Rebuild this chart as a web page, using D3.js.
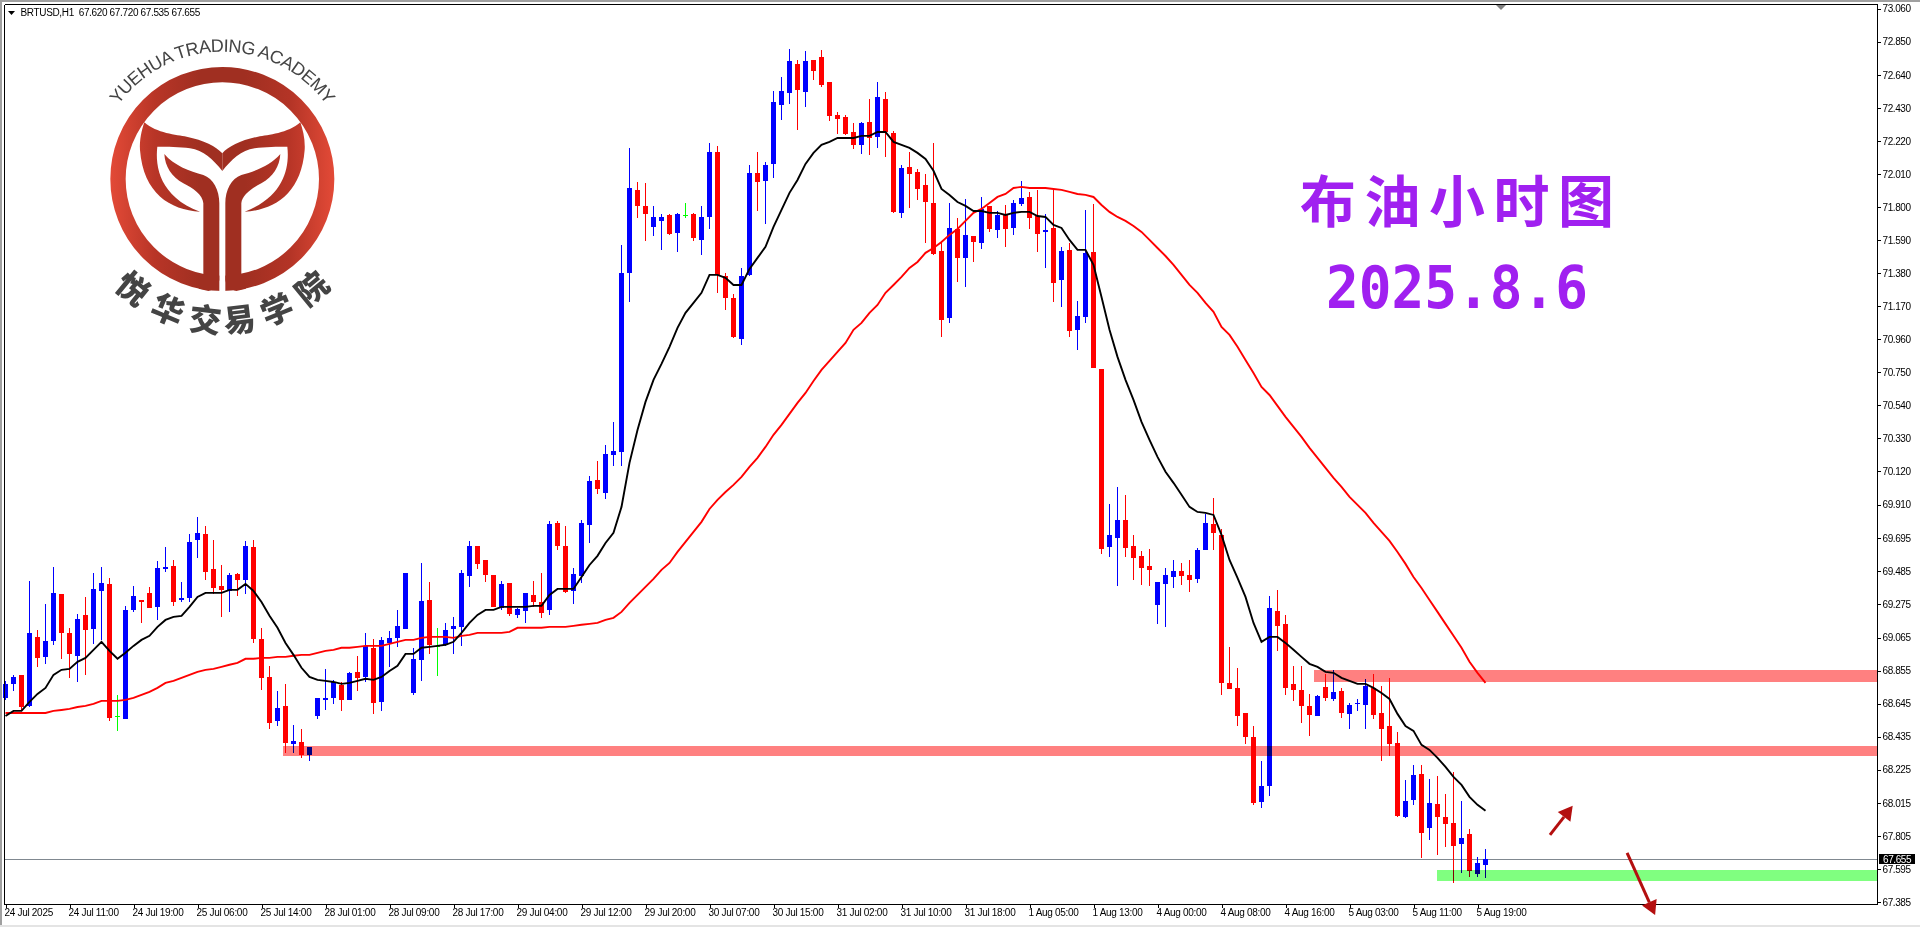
<!DOCTYPE html>
<html><head><meta charset="utf-8">
<script src="https://cdn.jsdelivr.net/npm/d3@7/dist/d3.min.js"></script>
<style>html,body{margin:0;padding:0;background:#fff;overflow:hidden}svg{display:block}</style>
</head><body><svg id="c" width="1920" height="927"></svg>
<script>
const opens=[68.682,68.771,68.828,68.631,69.069,68.942,69.044,69.343,69.095,68.949,69.209,69.120,69.361,69.406,68.567,68.548,69.241,69.304,69.349,69.260,69.501,69.520,69.304,69.317,69.685,69.723,69.501,69.393,69.361,69.469,69.431,69.641,69.057,68.815,68.535,68.631,68.389,68.402,68.320,68.567,68.669,68.682,68.764,68.669,68.847,68.815,69.000,68.656,69.031,69.063,69.120,68.714,68.923,69.304,69.012,69.019,69.120,69.133,69.457,69.647,69.558,69.463,69.253,69.412,69.209,69.234,69.336,69.291,69.241,69.793,69.647,69.361,69.457,69.781,70.067,69.984,70.226,70.245,71.381,71.909,71.807,71.674,71.712,71.750,71.636,71.750,71.756,71.591,71.737,72.150,71.362,71.223,70.963,71.369,72.017,71.966,72.074,72.449,72.525,72.709,72.531,72.735,72.754,72.595,72.386,72.373,72.277,72.195,72.341,72.246,72.487,72.271,71.763,72.055,72.023,71.941,71.826,71.521,71.096,71.661,71.477,71.617,71.572,71.807,71.655,71.750,71.667,71.820,71.864,71.743,71.642,71.667,71.337,71.528,71.020,71.102,71.515,70.772,69.641,69.698,69.812,69.647,69.584,69.520,69.272,69.406,69.450,69.488,69.463,69.438,69.622,69.787,69.717,68.777,68.745,68.586,68.433,68.021,68.123,69.234,69.152,68.771,68.732,68.631,68.567,68.751,68.675,68.726,68.580,68.644,68.637,68.745,68.586,68.503,68.396,67.926,68.034,68.199,67.856,68.009,67.926,67.888,67.754,67.818,67.564,67.620];
const closes=[68.771,68.815,68.624,69.095,68.936,69.044,69.349,69.095,68.961,69.184,69.114,69.374,69.412,68.555,68.567,69.241,69.330,69.291,69.253,69.507,69.514,69.291,69.317,69.673,69.730,69.482,69.380,69.368,69.463,69.431,69.647,69.057,68.809,68.523,68.618,68.396,68.408,68.320,68.371,68.682,68.682,68.783,68.669,68.841,68.809,69.012,68.650,69.050,69.063,69.139,69.476,68.930,69.298,69.019,69.012,69.114,69.139,69.476,69.647,69.533,69.463,69.260,69.406,69.215,69.247,69.349,69.291,69.222,69.787,69.647,69.355,69.469,69.793,70.060,70.009,70.232,70.251,71.381,71.921,71.807,71.756,71.737,71.737,71.629,71.756,71.750,71.604,71.737,72.150,71.369,71.223,70.975,71.362,72.017,71.959,72.068,72.468,72.538,72.729,72.544,72.729,72.665,72.576,72.379,72.360,72.265,72.195,72.335,72.239,72.500,72.277,71.769,72.049,72.011,71.915,71.832,71.502,71.083,71.667,71.477,71.623,71.578,71.788,71.661,71.750,71.661,71.826,71.858,71.731,71.629,71.655,71.318,71.521,71.013,71.108,71.509,70.778,69.628,69.717,69.812,69.635,69.571,69.507,69.495,69.418,69.463,69.488,69.457,69.431,69.622,69.793,69.730,68.777,68.739,68.567,68.433,68.015,68.123,69.253,69.139,68.745,68.732,68.631,68.574,68.694,68.682,68.720,68.586,68.637,68.650,68.758,68.574,68.485,68.389,67.932,68.027,68.192,67.824,68.015,67.926,67.881,67.741,67.792,67.583,67.633,67.655];
const highs=[68.790,68.828,68.828,69.425,69.114,69.279,69.514,69.343,69.127,69.215,69.323,69.476,69.514,69.444,68.700,69.266,69.393,69.304,69.387,69.552,69.641,69.558,69.418,69.723,69.832,69.774,69.685,69.526,69.476,69.476,69.679,69.685,69.127,68.885,68.726,68.771,68.510,68.485,68.371,68.682,68.866,68.796,68.783,68.847,68.949,69.095,69.057,69.069,69.107,69.241,69.476,69.000,69.539,69.418,69.127,69.158,69.196,69.495,69.679,69.647,69.558,69.463,69.425,69.412,69.253,69.349,69.425,69.476,69.806,69.806,69.774,69.507,69.812,70.092,70.187,70.289,70.435,71.559,72.176,71.959,71.953,71.807,71.756,71.756,71.763,71.826,71.763,71.807,72.207,72.188,71.381,71.248,71.413,72.068,72.150,72.087,72.538,72.627,72.805,72.735,72.792,72.735,72.798,72.595,72.405,72.386,72.335,72.341,72.487,72.595,72.531,72.284,72.068,72.150,72.042,72.011,72.207,71.572,71.826,71.731,71.851,71.617,71.864,71.807,71.775,71.813,71.845,71.966,71.896,71.909,71.756,71.909,71.547,71.572,71.204,71.782,71.820,70.772,69.915,70.022,69.972,69.717,69.615,69.628,69.418,69.507,69.558,69.539,69.558,69.635,69.851,69.953,69.755,69.006,68.873,68.586,68.503,68.281,69.330,69.368,69.209,68.885,68.885,68.707,68.700,68.834,68.860,68.745,68.650,68.675,68.803,68.834,68.758,68.809,68.466,68.161,68.256,68.256,68.167,68.186,68.072,68.211,68.027,67.849,67.671,67.720];
const lows=[68.669,68.726,68.605,68.624,68.879,68.898,69.019,68.930,68.809,68.783,68.828,69.025,69.050,68.535,68.472,68.548,69.228,69.158,69.253,69.177,69.482,69.266,69.291,69.291,69.571,69.431,69.343,69.196,69.228,69.330,69.343,69.031,68.732,68.485,68.503,68.332,68.332,68.301,68.281,68.548,68.605,68.644,68.599,68.669,68.726,68.783,68.580,68.599,68.879,69.006,69.120,68.701,68.790,68.961,68.822,69.012,68.961,69.012,69.387,69.501,69.418,69.260,69.241,69.203,69.190,69.158,69.260,69.190,69.209,69.622,69.349,69.279,69.412,69.666,69.978,69.946,70.156,70.156,71.197,71.731,71.585,71.617,71.528,71.623,71.515,71.731,71.585,71.496,71.661,71.255,71.147,70.969,70.924,71.362,71.775,71.693,71.985,72.354,72.455,72.290,72.436,72.608,72.563,72.347,72.265,72.258,72.169,72.138,72.131,72.176,72.119,71.763,71.731,71.794,71.845,71.572,71.496,70.975,71.064,71.325,71.293,71.451,71.534,71.642,71.604,71.547,71.623,71.807,71.661,71.515,71.413,71.197,71.166,70.975,70.892,71.064,70.778,69.596,69.577,69.393,69.577,69.431,69.399,69.393,69.152,69.133,69.380,69.399,69.355,69.412,69.622,69.622,68.700,68.739,68.503,68.389,68.002,67.983,68.059,68.980,68.700,68.663,68.523,68.440,68.567,68.663,68.663,68.555,68.485,68.599,68.485,68.548,68.281,68.313,67.926,67.920,68.002,67.665,67.780,67.684,67.735,67.506,67.570,67.545,67.545,67.535];
const maFast=[68.567,68.599,68.599,68.656,68.707,68.745,68.828,68.860,68.866,68.911,68.936,68.987,69.038,68.980,68.930,68.968,69.012,69.050,69.076,69.133,69.177,69.196,69.203,69.260,69.323,69.349,69.349,69.349,69.368,69.368,69.406,69.361,69.291,69.203,69.127,69.031,68.955,68.873,68.815,68.796,68.790,68.783,68.771,68.777,68.790,68.803,68.796,68.815,68.853,68.885,68.961,68.961,69.000,69.006,69.012,69.019,69.038,69.095,69.158,69.209,69.241,69.241,69.260,69.260,69.260,69.260,69.266,69.266,69.336,69.374,69.374,69.374,69.450,69.526,69.584,69.666,69.730,69.895,70.175,70.384,70.562,70.702,70.804,70.912,71.032,71.128,71.191,71.255,71.369,71.369,71.350,71.305,71.305,71.407,71.477,71.547,71.674,71.782,71.890,71.972,72.074,72.144,72.195,72.214,72.239,72.239,72.239,72.252,72.252,72.277,72.277,72.214,72.195,72.176,72.144,72.106,72.030,71.915,71.877,71.832,71.807,71.775,71.775,71.763,71.763,71.750,71.763,71.769,71.769,71.743,71.737,71.686,71.667,71.591,71.528,71.528,71.433,71.229,71.020,70.848,70.702,70.575,70.435,70.321,70.213,70.118,70.048,69.972,69.895,69.863,69.857,69.844,69.717,69.558,69.444,69.323,69.158,69.038,69.069,69.069,69.031,68.987,68.942,68.898,68.879,68.847,68.841,68.809,68.790,68.771,68.771,68.745,68.713,68.675,68.580,68.503,68.472,68.383,68.351,68.301,68.243,68.180,68.129,68.053,68.002,67.964];
const maSlow=[68.586,68.586,68.586,68.586,68.586,68.586,68.599,68.605,68.612,68.624,68.631,68.644,68.663,68.663,68.663,68.669,68.682,68.701,68.720,68.745,68.777,68.790,68.809,68.828,68.847,68.860,68.866,68.879,68.892,68.904,68.930,68.930,68.936,68.936,68.942,68.942,68.949,68.955,68.955,68.968,68.980,68.987,69.000,69.000,69.006,69.012,69.012,69.012,69.025,69.038,69.050,69.050,69.063,69.069,69.069,69.069,69.063,69.076,69.082,69.095,69.095,69.095,69.095,69.101,69.127,69.127,69.127,69.127,69.133,69.133,69.133,69.139,69.146,69.152,69.158,69.177,69.190,69.228,69.285,69.336,69.387,69.438,69.495,69.539,69.609,69.673,69.736,69.800,69.882,69.940,69.990,70.035,70.086,70.149,70.207,70.276,70.353,70.416,70.486,70.556,70.619,70.695,70.765,70.822,70.880,70.937,71.020,71.064,71.128,71.178,71.255,71.305,71.356,71.413,71.451,71.509,71.540,71.578,71.623,71.661,71.712,71.763,71.788,71.826,71.864,71.883,71.921,71.928,71.921,71.921,71.921,71.915,71.909,71.896,71.883,71.877,71.864,71.813,71.769,71.737,71.712,71.680,71.642,71.591,71.540,71.489,71.433,71.369,71.305,71.255,71.191,71.134,71.039,70.988,70.912,70.829,70.746,70.657,70.606,70.537,70.467,70.403,70.340,70.270,70.207,70.143,70.079,70.022,69.959,69.908,69.857,69.793,69.736,69.679,69.609,69.533,69.450,69.380,69.304,69.228,69.152,69.076,69.000,68.911,68.841,68.777];
const priceTicks=["67.385","67.595","67.805","68.015","68.225","68.435","68.645","68.855","69.065","69.275","69.485","69.695","69.910","70.120","70.330","70.540","70.750","70.960","71.170","71.380","71.590","71.800","72.010","72.220","72.430","72.640","72.850","73.060"];
const timeTicks=["24 Jul 2025","24 Jul 11:00","24 Jul 19:00","25 Jul 06:00","25 Jul 14:00","28 Jul 01:00","28 Jul 09:00","28 Jul 17:00","29 Jul 04:00","29 Jul 12:00","29 Jul 20:00","30 Jul 07:00","30 Jul 15:00","31 Jul 02:00","31 Jul 10:00","31 Jul 18:00","1 Aug 05:00","1 Aug 13:00","4 Aug 00:00","4 Aug 08:00","4 Aug 16:00","5 Aug 03:00","5 Aug 11:00","5 Aug 19:00"];
const barsPerTick=8;
const bands=[
 {start:163.6,hi:68.860,lo:68.783,color:"#ff8080"},
 {start:34.7,hi:68.377,lo:68.313,color:"#ff8080"},
 {start:178.9,hi:67.589,lo:67.519,color:"#80ff80"}];
const arrows=[
 {i0:193.06,p0:67.811,i1:195.9,p1:67.996},
 {i0:202.7,p0:67.697,i1:206.2,p1:67.302}];
const lastPrice=67.655;
const headerText="BRTUSD,H1  67.620 67.720 67.535 67.655";
const titleLine1="布油小时图", titleLine2="2025.8.6";
const academyEn="YUEHUA TRADING ACADEMY", academyCn=["悦","华","交","易","学","院"];

const L=4,T=4,R=1877,B=904;
const svg=d3.select("#c");
const x=d3.scaleLinear().domain([0,1]).range([5.5,13.5]);
const y=d3.scaleLinear().domain([67.385,73.060]).range([902,8.7]);
const col=i=>closes[i]>opens[i]?"#0000ff":closes[i]<opens[i]?"#ff0000":"#00ff00";
const FONT="'Liberation Sans',Arial,sans-serif";

// window edges
svg.append("rect").attr("x",0).attr("y",0).attr("width",1920).attr("height",2).attr("fill","#a0a0a0");
svg.append("rect").attr("x",0).attr("y",0).attr("width",2).attr("height",927).attr("fill","#a0a0a0");
svg.append("rect").attr("x",0).attr("y",925).attr("width",1920).attr("height",2).attr("fill","#e4e4e4");

// price line under candles
svg.append("line").attr("x1",L).attr("x2",R).attr("y1",Math.round(y(lastPrice))).attr("y2",Math.round(y(lastPrice)))
  .attr("stroke","#808890").attr("stroke-width",1).attr("shape-rendering","crispEdges");

const idx=d3.range(opens.length);
const g=svg.append("g").attr("shape-rendering","crispEdges");
g.selectAll("rect.w").data(idx).join("rect").attr("class","w")
 .attr("x",i=>x(i)-0.5).attr("width",1)
 .attr("y",i=>Math.round(y(highs[i]))).attr("height",i=>Math.max(1,Math.round(y(lows[i]))-Math.round(y(highs[i]))))
 .attr("fill",i=>col(i));
g.selectAll("rect.b").data(idx).join("rect").attr("class","b")
 .attr("x",i=>x(i)-2.5).attr("width",5)
 .attr("y",i=>Math.round(y(Math.max(opens[i],closes[i]))))
 .attr("height",i=>Math.max(1,Math.round(y(Math.min(opens[i],closes[i])))-Math.round(y(Math.max(opens[i],closes[i])))))
 .attr("fill",i=>col(i));

const line=d3.line().x((d,i)=>x(i)).y(d=>y(d));
svg.append("path").attr("d",line(maSlow)).attr("fill","none").attr("stroke","#ff0000").attr("stroke-width",1.9);
svg.append("path").attr("d",line(maFast)).attr("fill","none").attr("stroke","#000").attr("stroke-width",1.9);

// zones
svg.selectAll("rect.z").data(bands).join("rect").attr("class","z")
 .attr("x",d=>x(d.start)).attr("width",d=>R-x(d.start))
 .attr("y",d=>y(d.hi)).attr("height",d=>y(d.lo)-y(d.hi))
 .attr("fill",d=>d.color).style("mix-blend-mode","multiply").attr("shape-rendering","crispEdges");

// axes
const yAxis=d3.axisRight(y).tickValues(priceTicks.map(Number)).tickFormat((d,i)=>priceTicks[i]).tickSize(3).tickPadding(2);
const ay=svg.append("g").attr("transform",`translate(${R+.5},0)`).call(yAxis);
ay.select(".domain").remove();
const xAxis=d3.axisBottom(x).tickValues(timeTicks.map((d,i)=>i*barsPerTick)).tickFormat((d,i)=>timeTicks[i]).tickSize(3).tickPadding(3);
const ax=svg.append("g").attr("transform",`translate(0,${B+.5})`).call(xAxis);
ax.select(".domain").remove();
ax.selectAll("text").attr("text-anchor","start").attr("dx",-1.5).attr("dy","0.55em").style("letter-spacing","-0.3px");
[ay,ax].forEach(a=>{a.selectAll("text").attr("font-family",FONT).attr("font-size",10).attr("fill","#000");
  a.selectAll("line").attr("stroke","#000").attr("shape-rendering","crispEdges");});
ay.selectAll("text").style("letter-spacing","-0.4px");
// frame
[[L,T,L,B],[L,T,R,T],[R,T,R,B],[L,B,R,B]].forEach(s=>svg.append("line").attr("x1",s[0]+.5).attr("y1",s[1]+.5).attr("x2",s[2]+.5).attr("y2",s[3]+.5)
  .attr("stroke","#000").attr("shape-rendering","crispEdges"));
svg.append("path").attr("d","M1496,5 L1506,5 L1501,10 Z").attr("fill","#808080");

// last price tag
const lpY=Math.round(y(lastPrice));
svg.append("rect").attr("x",1879).attr("y",lpY-5).attr("width",36).attr("height",10).attr("fill","#000");
svg.append("text").attr("x",1883).attr("y",lpY+3.7).attr("font-family",FONT).attr("font-size",10).attr("fill","#fff").style("letter-spacing","-0.4px").text(lastPrice.toFixed(3));

// header
svg.append("path").attr("d","M8,11 L15,11 L11.5,15 Z").attr("fill","#000");
svg.append("text").attr("x",20.5).attr("y",16).attr("font-family",FONT).attr("font-size",10).attr("fill","#000")
  .attr("xml:space","preserve").style("white-space","pre").style("letter-spacing","-0.35px").text(headerText);

// arrows
const defs=svg.append("defs");
arrows.forEach(a=>{
  const x0=x(a.i0),y0=y(a.p0),x1=x(a.i1),y1=y(a.p1),ang=Math.atan2(y1-y0,x1-x0),len=14,w=8;
  const bx=x1-len*Math.cos(ang),by=y1-len*Math.sin(ang),nx=-Math.sin(ang),ny=Math.cos(ang);
  svg.append("line").attr("x1",x0).attr("y1",y0).attr("x2",bx).attr("y2",by).attr("stroke","#b40f0f").attr("stroke-width",3);
  svg.append("path").attr("d",`M${x1},${y1}L${bx+nx*w},${by+ny*w}L${bx-nx*w},${by-ny*w}Z`).attr("fill","#b40f0f");
});

// logo (drawn at 3x, scaled down)
const grad=defs.append("linearGradient").attr("id","lg").attr("gradientUnits","userSpaceOnUse").attr("x1",330).attr("x2",1003).attr("y1",0).attr("y2",0);
[[0,"#e34a37"],[.2,"#b83527"],[.4,"#a02f21"],[.6,"#a02f21"],[.8,"#b33426"],[1,"#e34a37"]].forEach(s=>grad.append("stop").attr("offset",s[0]).attr("stop-color",s[1]));
const logo=svg.append("g").attr("transform","scale(0.33333)");
logo.append("circle").attr("cx",667).attr("cy",537).attr("r",313).attr("fill","none").attr("stroke","url(#lg)").attr("stroke-width",46);
logo.append("rect").attr("x",658).attr("y",780).attr("width",18).attr("height",110).attr("fill","#fff");
const leaf="M433,367 C470,400 530,405 560,410 C610,420 650,440 667,460 L667,513 C640,480 610,450 570,445 C540,440 500,440 472,440 C465,500 480,590 600,635 C510,630 430,580 420,450 C418,420 425,390 433,367 Z";
const stem="M493,462 C520,495 570,515 610,525 C640,535 658,570 658,610 L658,840 C655,860 640,870 625,873 L596,866 L610,822 L610,610 C608,585 580,565 550,550 C515,530 495,500 493,462 Z";
[leaf,stem].forEach(d=>{
  logo.append("path").attr("d",d).attr("fill","url(#lg)");
  logo.append("path").attr("d",d).attr("fill","url(#lg)").attr("transform","translate(1334,0) scale(-1,1)");
});
defs.append("path").attr("id","arcEn").attr("d","M 282,540 A 385,385 0 0 1 1052,540");
logo.append("text").attr("font-family",FONT).attr("font-size",54).attr("fill","#444")
  .append("textPath").attr("href","#arcEn").attr("startOffset","50%").attr("text-anchor","middle").attr("textLength",728).text(academyEn);
const cnAngles=[-39.5,-22.8,-7,7,22.8,39.5];
academyCn.forEach((c,i)=>{
  const a=cnAngles[i]*Math.PI/180,r=423;
  logo.append("text").attr("transform",`translate(${667+r*Math.sin(a)},${540+r*Math.cos(a)}) rotate(${-cnAngles[i]})`)
    .attr("text-anchor","middle").attr("dy","0.36em").attr("font-family","'Noto Sans CJK SC'").attr("font-weight",900).attr("font-size",96).attr("fill","#444").text(c);
});

// title
svg.append("text").attr("x",1300).attr("y",222).attr("font-family","'Noto Sans CJK SC'").attr("font-weight",700).attr("font-size",56)
  .attr("fill","#a020f0").style("letter-spacing","8.5px").text(titleLine1);
svg.append("text").attr("x",1326).attr("y",308).attr("font-family","'DejaVu Sans Mono'").attr("font-weight",700).attr("font-size",59)
  .attr("fill","#a020f0").attr("textLength",262).attr("lengthAdjust","spacingAndGlyphs").text(titleLine2);
</script></body></html>
